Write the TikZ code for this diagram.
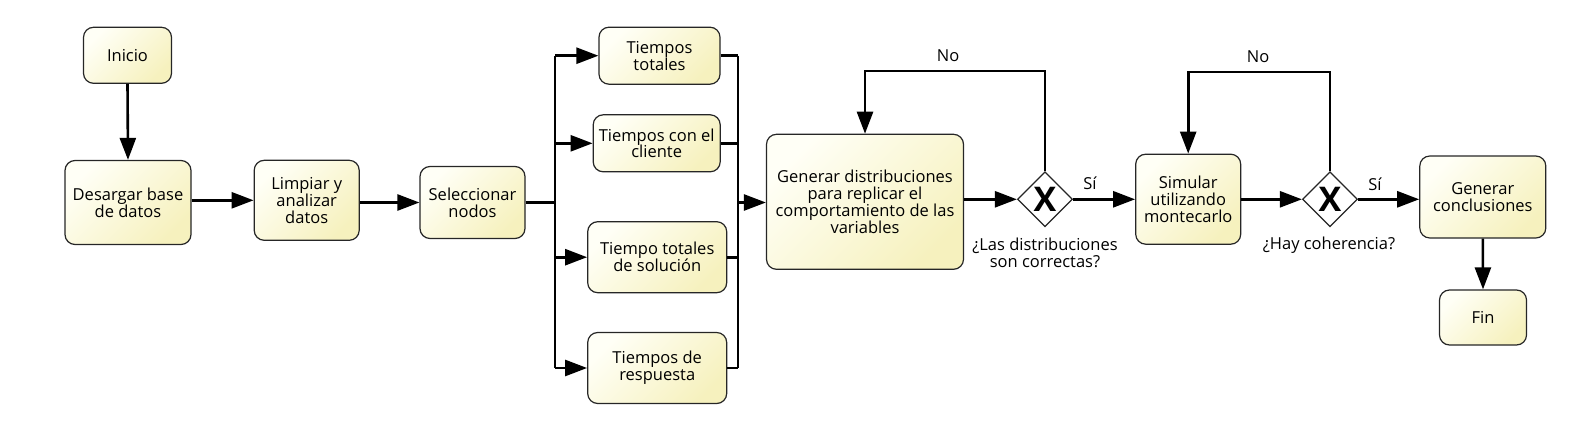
\documentclass[tikz,border=0pt]{standalone}
\usepackage{fontspec}
\setmainfont{Open Sans}
\usetikzlibrary{arrows.meta,shapes.geometric}
\definecolor{boxlight}{RGB}{255,255,246}
\definecolor{boxdark}{RGB}{246,241,190}
\begin{document}
\begin{tikzpicture}[x=1pt,y=-1pt,
  box/.style={draw=black!85, line width=1.2pt, rounded corners=10pt,
    top color=boxlight, bottom color=boxdark, shading angle=45,
    align=center, inner sep=0pt, font=\fontsize{16.5}{16.8}\selectfont},
  conn/.style={line width=2.6pt, -{Triangle[length=22pt,width=16pt]}},
  plain/.style={line width=2.6pt},
  gw/.style={diamond, aspect=1, draw=black!85, line width=1.2pt, fill=white,
    minimum size=55pt, inner sep=0pt, font=\fontsize{34}{34}\selectfont\bfseries},
  lbl/.style={align=center, inner sep=0pt, font=\fontsize{16.5}{16.8}\selectfont}]
\useasboundingbox (0,0) rectangle (1592,436);

\node[box, minimum width=88pt, minimum height=56pt] (ini) at (127.5,55.3) {Inicio};
\node[box, minimum width=126pt, minimum height=84pt] (des) at (128,202.5) {Desargar base\\de datos};
\node[box, minimum width=105pt, minimum height=80pt] (lim) at (306.7,200.3) {Limpiar y\\analizar\\datos};
\node[box, minimum width=105pt, minimum height=72pt] (sel) at (472.5,202.5) {Seleccionar\\nodos};

\node[box, minimum width=121pt, minimum height=57pt] (tt) at (659.5,55.7) {Tiempos\\totales};
\node[box, minimum width=127pt, minimum height=57pt] (tc) at (656.7,143.3) {Tiempos con el\\cliente};
\node[box, minimum width=139pt, minimum height=71pt] (ts) at (657.2,257.2) {Tiempo totales\\de solución};
\node[box, minimum width=139pt, minimum height=71pt] (tr) at (657.2,368) {Tiempos de\\respuesta};

\node[box, minimum width=197pt, minimum height=135pt] (gd) at (865,201.8) {Generar distribuciones\\para replicar el\\comportamiento de las\\variables};
\node[gw] (g1) at (1045,199.3) {X};
\node[box, minimum width=105pt, minimum height=90pt] (sim) at (1188.2,199.2) {Simular\\utilizando\\montecarlo};
\node[gw] (g2) at (1330,199.3) {X};
\node[box, minimum width=126pt, minimum height=82pt] (gc) at (1482.8,197) {Generar\\conclusiones};
\node[box, minimum width=87pt, minimum height=55pt] (fin) at (1483,317.5) {Fin};

\node[lbl] (q1) at (1045,253) {¿Las distribuciones\\son correctas?};
\node[lbl] (q2) at (1329,245) {¿Hay coherencia?};
\node[lbl] (no1) at (948,56) {No};
\node[lbl] (no2) at (1258,57) {No};
\node[lbl] (si1) at (1090,183) {Sí};
\node[lbl] (si2) at (1375,184) {Sí};

\coordinate (sp) at (555,202.5);
\coordinate (mg) at (738,202.5);
\coordinate (lp1) at (0,71);
\coordinate (lp2) at (0,72);

\draw[conn] (ini.south) -- (des.north);
\draw[conn] (des.east |- lim.west) -- (lim.west);
\draw[conn] (lim.east |- sel.west) -- (sel.west);
\draw[plain] (sel.east) -- (sp);
\draw[plain] (sp |- tt.west) -- (sp |- tr.west);
\draw[conn] (sp |- tt.west) -- (tt.west);
\draw[conn] (sp |- tc.west) -- (tc.west);
\draw[conn] (sp |- ts.west) -- (ts.west);
\draw[conn] (sp |- tr.west) -- (tr.west);
\draw[plain] (tt.east) -- (mg |- tt.east);
\draw[plain] (tc.east) -- (mg |- tc.east);
\draw[plain] (ts.east) -- (mg |- ts.east);
\draw[plain] (tr.east) -- (mg |- tr.east);
\draw[plain] (mg |- tt.east) -- (mg |- tr.east);
\draw[conn] (mg) -- (gd.west |- mg);
\draw[conn] (gd.east |- g1.west) -- (g1.west);
\draw[conn] (g1.north) -- (g1.north |- lp1) -| (gd.north);
\draw[conn] (g1.east) -- (sim.west |- g1.east);
\draw[conn] (sim.east |- g2.west) -- (g2.west);
\draw[conn] (g2.north) -- (g2.north |- lp2) -| (sim.north);
\draw[conn] (g2.east) -- (gc.west |- g2.east);
\draw[conn] (gc.south) -- (fin.north);
\end{tikzpicture}
\end{document}
